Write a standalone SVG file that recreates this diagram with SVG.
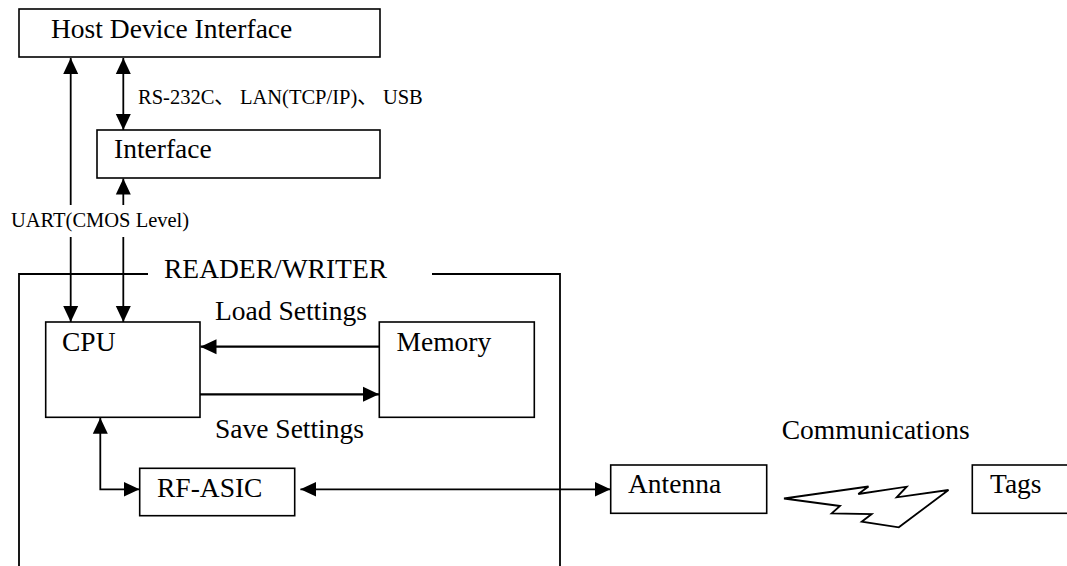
<svg xmlns="http://www.w3.org/2000/svg" width="1067" height="566" viewBox="0 0 1067 566">
<style>
.box{fill:#fff;stroke:#000;stroke-width:1.6}
.ln{fill:none;stroke:#000;stroke-width:1.8}
.lnt{fill:none;stroke:#000;stroke-width:2.2}
.t{font-family:"Liberation Serif","Times New Roman","Noto Sans CJK SC",serif;font-size:27.5px;fill:#000}
.s{font-family:"Liberation Serif","Times New Roman","Noto Sans CJK SC",serif;font-size:20.5px;fill:#000}
</style>
<defs>
<marker id="ah" markerUnits="userSpaceOnUse" markerWidth="16" markerHeight="16" refX="16" refY="8" orient="auto-start-reverse" viewBox="0 0 16 16">
<path d="M0,0.5 L16,8 L0,15.5 z" fill="#000"/>
</marker>
</defs>
<rect x="0" y="0" width="1067" height="566" fill="#fff"/>
<g id="frame">
<polyline class="ln" points="19,570 19,274 148,274"/>
<polyline class="ln" points="432,274 560,274 560,570"/>
<text class="t" x="164" y="278">READER/WRITER</text>
</g>
<g id="host">
<rect class="box" x="19" y="9" width="361" height="48"/>
<text class="t" x="51" y="38">Host Device Interface</text>
</g>
<g id="interface">
<rect class="box" x="97" y="130" width="283" height="48"/>
<text class="t" x="114" y="158">Interface</text>
</g>
<g id="cpu">
<rect class="box" x="45.7" y="322" width="154.3" height="95.3"/>
<text class="t" x="62" y="350.5">CPU</text>
</g>
<g id="memory">
<rect class="box" x="379.3" y="322" width="155" height="95.3"/>
<text class="t" x="396.5" y="350.5">Memory</text>
</g>
<g id="rfasic">
<rect class="box" x="139.7" y="468.3" width="155" height="47.4"/>
<text class="t" x="157" y="496.5">RF-ASIC</text>
</g>
<g id="antenna">
<rect class="box" x="610.7" y="465" width="156" height="48.3"/>
<text class="t" x="628" y="493.3">Antenna</text>
</g>
<g id="tags">
<rect class="box" x="972.3" y="465" width="110" height="48.3"/>
<text class="t" x="990" y="493.3">Tags</text>
</g>
<g id="connectors">
<line class="ln" x1="70.7" y1="58" x2="70.7" y2="205" marker-start="url(#ah)"/>
<line class="ln" x1="70.7" y1="237" x2="70.7" y2="322" marker-end="url(#ah)"/>
<line class="ln" x1="123.3" y1="58" x2="123.3" y2="130" marker-start="url(#ah)" marker-end="url(#ah)"/>
<line class="ln" x1="123.3" y1="178.5" x2="123.3" y2="205" marker-start="url(#ah)"/>
<line class="ln" x1="123.3" y1="237" x2="123.3" y2="322" marker-end="url(#ah)"/>
<line class="lnt" x1="379.3" y1="346.7" x2="200.5" y2="346.7" marker-end="url(#ah)"/>
<line class="lnt" x1="200" y1="394.3" x2="379" y2="394.3" marker-end="url(#ah)"/>
<polyline class="ln" points="100.3,417.8 100.3,489.3 139.5,489.3" marker-start="url(#ah)" marker-end="url(#ah)"/>
<line class="ln" x1="300.4" y1="489.3" x2="610.5" y2="489.3" marker-start="url(#ah)" marker-end="url(#ah)"/>
<polygon class="ln" points="784,498.5 868.5,486.5 858.3,494 906.7,486.7 896.7,497.3 948.5,490 898.8,527.3 861.7,521.7 871.7,514 831.7,513.3 840,506"/>
</g>
<g id="labels">
<text class="s" x="138" y="104">RS-232C、 LAN(TCP/IP)、 USB</text>
<text class="s" x="11" y="226.5">UART(CMOS Level)</text>
<text class="t" x="215" y="320">Load Settings</text>
<text class="t" x="215" y="438.3">Save Settings</text>
<text class="t" x="781.7" y="439.3">Communications</text>
</g>
</svg>
